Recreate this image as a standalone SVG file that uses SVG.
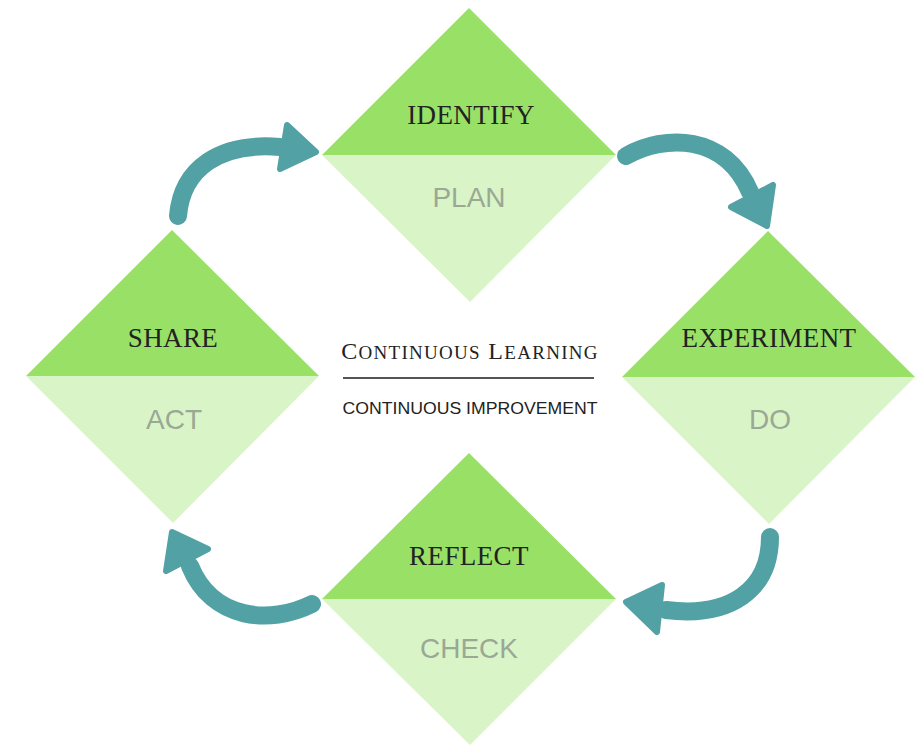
<svg xmlns="http://www.w3.org/2000/svg" width="918" height="746" viewBox="0 0 918 746">
<style>
.top{fill:#99e066}
.bot{fill:#d9f5c8}
.lbl{font-family:"Liberation Serif",serif;font-size:27px;fill:#222;text-anchor:middle;letter-spacing:0.4px}
.sub{font-family:"Liberation Sans",Arial,sans-serif;font-size:28px;fill:#9aa894;text-anchor:middle}
.arr{fill:none;stroke:#52a1a5;stroke-width:18;stroke-linecap:round}
.head{fill:#52a1a5;stroke:#52a1a5;stroke-width:6;stroke-linejoin:round}
</style>
<rect width="918" height="746" fill="#fff"/>
<g id="identify">
<polygon class="top" points="322,155 469,8 616,155"/>
<polygon class="bot" points="322,155 616,155 470,302"/>
<text class="lbl" x="471" y="124">IDENTIFY</text>
<text class="sub" x="469" y="207">PLAN</text>
</g>
<g id="share">
<polygon class="top" points="26,376 172,230 319,376"/>
<polygon class="bot" points="26,376 319,376 173,523"/>
<text class="lbl" x="173" y="347">SHARE</text>
<text class="sub" x="174" y="429">ACT</text>
</g>
<g id="experiment">
<polygon class="top" points="622,377 768,231 915,377"/>
<polygon class="bot" points="622,377 915,377 769,524"/>
<text class="lbl" x="769" y="347">EXPERIMENT</text>
<text class="sub" x="770" y="429">DO</text>
</g>
<g id="reflect">
<polygon class="top" points="322,599 469,453 616,599"/>
<polygon class="bot" points="322,599 616,599 470,745"/>
<text class="lbl" x="469" y="565">REFLECT</text>
<text class="sub" x="469" y="658">CHECK</text>
</g>
<g id="center">
<text x="470" y="359" font-family="Liberation Serif,serif" fill="#222" text-anchor="middle" letter-spacing="1.3"><tspan font-size="24">C</tspan><tspan font-size="19">ONTINUOUS</tspan><tspan font-size="24"> L</tspan><tspan font-size="19">EARNING</tspan></text>
<line x1="343" y1="378" x2="594" y2="378" stroke="#555" stroke-width="2"/>
<text x="470" y="414" font-family="Liberation Sans,Arial,sans-serif" font-size="16.5" fill="#222" text-anchor="middle" textLength="255" lengthAdjust="spacingAndGlyphs">CONTINUOUS IMPROVEMENT</text>
</g>
<g id="connectors">
<path class="arr" d="M626,156 C665,134 725,134 750,192"/>
<polygon class="head" points="731,207 773,185 767,226"/>
<path class="arr" d="M770,537 C770,590 730,618 666,610"/>
<polygon class="head" points="662,585 626,602 657,632"/>
<path class="arr" d="M312,604 C270,625 212,620 190,566"/>
<polygon class="head" points="208,549 172,532 166,571"/>
<path class="arr" d="M178,216 C182,168 220,142 280,147"/>
<polygon class="head" points="287,125 316,152 280,169"/>
</g>
</svg>
